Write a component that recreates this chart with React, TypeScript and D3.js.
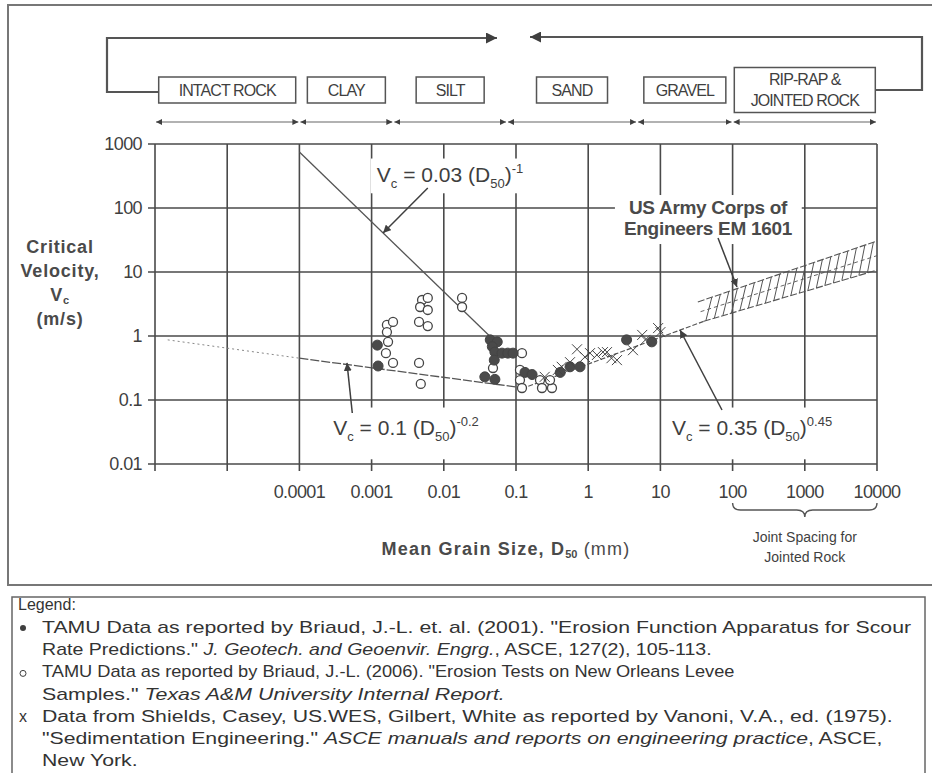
import { useEffect, useRef } from 'react';
import * as d3 from 'd3';

const W = 932;
const H = 773;

// axis decades
const xDecades = [1e-6, 1e-5, 1e-4, 1e-3, 1e-2, 1e-1, 1, 10, 100, 1000, 10000];
const xTickValues = [1e-4, 1e-3, 1e-2, 1e-1, 1, 10, 100, 1000, 10000];
const xTickLabels = ['0.0001', '0.001', '0.01', '0.1', '1', '10', '100', '1000', '10000'];
const yTickValues = [0.01, 0.1, 1, 10, 100, 1000];
const yTickLabels = ['0.01', '0.1', '1', '10', '100', '1000'];

// material classes along the grain size axis (mm)
const soilNames = [['INTACT ROCK'], ['CLAY'], ['SILT'], ['SAND'], ['GRAVEL'], ['RIP-RAP &', 'JOINTED ROCK']];
const soilBounds = [1e-6, 1e-4, 0.002, 0.075, 4.75, 100, 10000];

// [D50 mm, Vc m/s]
const tamu2001: [number, number][] = [
  [0.0012, 0.72], [0.00123, 0.34], [0.044, 0.87], [0.055, 0.81], [0.047, 0.68], [0.051, 0.56],
  [0.064, 0.54], [0.077, 0.54], [0.091, 0.54], [0.05, 0.42], [0.037, 0.23], [0.051, 0.21],
  [0.133, 0.27], [0.167, 0.25], [0.41, 0.27], [0.56, 0.33], [0.77, 0.33], [3.4, 0.87], [7.6, 0.81],
];
const tamu2006: [number, number][] = [
  [0.00163, 1.49], [0.00198, 1.66], [0.00163, 1.15], [0.00169, 0.81], [0.00158, 0.54], [0.00198, 0.38],
  [0.005, 3.65], [0.006, 3.93], [0.0047, 2.84], [0.006, 2.55], [0.00454, 1.66], [0.006, 1.43],
  [0.00454, 0.38], [0.0048, 0.178], [0.0179, 3.93], [0.0179, 2.84], [0.121, 0.54], [0.048, 0.316],
  [0.1135, 0.295], [0.1135, 0.205], [0.121, 0.154], [0.215, 0.205], [0.229, 0.154], [0.315, 0.154], [0.296, 0.205],
];
const shields: [number, number][] = [
  [0.25, 0.23], [0.38, 0.295], [0.43, 0.33], [0.56, 0.39], [0.7, 0.62], [0.9, 0.47], [1.06, 0.54],
  [1.32, 0.505], [1.6, 0.56], [1.82, 0.56], [2.1, 0.45], [2.5, 0.42], [4.17, 0.6], [5.6, 1.04],
  [6.2, 0.87], [9.3, 1.33], [10, 1.15],
];

// trend lines as drawn
const steepLine: [number, number][] = [[1e-4, 750], [0.05, 0.85]];
const flatLineDotted: [number, number][] = [[1.5e-6, 0.87], [1e-4, 0.45]];
const flatLine: [number, number][] = [[1e-4, 0.45], [0.1, 0.16]];
const risingLine: [number, number][] = [[0.12, 0.15], [40, 1.7]];
const bandUpper: [number, number][] = [[33, 3.4], [10000, 30.5]];
const bandMiddle: [number, number][] = [[36, 2.4], [10000, 18]];
const bandLower: [number, number][] = [[40, 1.7], [10000, 10.7]];

type Seg = { t: string; sub?: boolean; sup?: boolean; it?: boolean };

const eqSteep: Seg[] = [{ t: 'V' }, { t: 'c', sub: true }, { t: ' = 0.03 (D' }, { t: '50', sub: true }, { t: ')' }, { t: '-1', sup: true }];
const eqFlat: Seg[] = [{ t: 'V' }, { t: 'c', sub: true }, { t: ' = 0.1 (D' }, { t: '50', sub: true }, { t: ')' }, { t: '-0.2', sup: true }];
const eqRising: Seg[] = [{ t: 'V' }, { t: 'c', sub: true }, { t: ' = 0.35 (D' }, { t: '50', sub: true }, { t: ')' }, { t: '0.45', sup: true }];

const legendRows: { mark: string; segs: Seg[] }[] = [
  { mark: 'filled', segs: [{ t: 'TAMU Data as reported by Briaud, J.-L. et. al. (2001). "Erosion Function Apparatus for Scour' }] },
  { mark: '', segs: [{ t: 'Rate Predictions." ' }, { t: 'J. Geotech. and Geoenvir. Engrg.', it: true }, { t: ', ASCE, 127(2), 105-113.' }] },
  { mark: 'open', segs: [{ t: 'TAMU Data as reported by Briaud, J.-L. (2006). "Erosion Tests on New Orleans Levee' }] },
  { mark: '', segs: [{ t: 'Samples." ' }, { t: 'Texas A&M University Internal Report.', it: true }] },
  { mark: 'x', segs: [{ t: 'Data from Shields, Casey, US.WES, Gilbert,  White as reported by Vanoni, V.A., ed. (1975).' }] },
  { mark: '', segs: [{ t: '"Sedimentation Engineering." ' }, { t: 'ASCE manuals and reports on engineering practice', it: true }, { t: ', ASCE,' }] },
  { mark: '', segs: [{ t: 'New York.' }] },
];

const FONT = '"Liberation Sans", Arial, Helvetica, sans-serif';
const INK = '#3f3f3f';

export default function App() {
  const ref = useRef<SVGSVGElement>(null);

  useEffect(() => {
    if (!ref.current) return;
    const svg = d3.select(ref.current);
    svg.selectAll('*').remove();

    const x = d3.scaleLog().domain([1e-6, 1e4]).range([155, 877]);
    const y = d3.scaleLog().domain([0.01, 1000]).range([464, 144]);
    const line = d3.line<[number, number]>().x(d => x(d[0])).y(d => y(d[1]));

    const defs = svg.append('defs');
    const marker = (id: string, size: number) => {
      defs.append('marker')
        .attr('id', id)
        .attr('viewBox', '0 0 10 10')
        .attr('refX', 10).attr('refY', 5)
        .attr('markerUnits', 'userSpaceOnUse')
        .attr('markerWidth', size).attr('markerHeight', size)
        .attr('orient', 'auto-start-reverse')
        .append('path').attr('d', 'M0,0L10,5L0,10z').attr('fill', INK);
    };
    marker('bigArrow', 11);
    marker('smallArrow', 6);
    marker('noteArrow', 8);

    const rich = (parent: d3.Selection<SVGGElement, unknown, null, undefined>, segs: Seg[], size: number) => {
      const txt = parent.append('text').attr('font-size', size).attr('font-family', FONT).attr('fill', INK);
      let shift = 0;
      segs.forEach(s => {
        const target = s.sub ? size * 0.3 : s.sup ? -size * 0.45 : 0;
        const ts = txt.append('tspan').attr('dy', target - shift).text(s.t);
        if (s.sub || s.sup) ts.attr('font-size', size * 0.62);
        if (s.it) ts.attr('font-style', 'italic');
        shift = target;
      });
      return txt;
    };
    const squeeze = (t: d3.Selection<SVGTextElement, unknown, null, undefined>, cx: number, maxW: number) => {
      const w = (t.node() as SVGTextElement).getComputedTextLength();
      if (w > maxW) t.attr('transform', `translate(${cx},0) scale(${maxW / w},1) translate(${-cx},0)`);
    };

    // outer frames
    svg.append('rect').attr('x', 8).attr('y', 5).attr('width', 940).attr('height', 580)
      .attr('fill', 'none').attr('stroke', '#777').attr('stroke-width', 2);
    svg.append('rect').attr('x', 12).attr('y', 597).attr('width', 913).attr('height', 200)
      .attr('fill', 'none').attr('stroke', '#666').attr('stroke-width', 1.5);

    // material class boxes
    const boxW = [137, 78, 68, 71, 82, 141];
    const top = svg.append('g');
    const boxes = soilNames.map((names, i) => {
      const cx = (x(soilBounds[i]) + x(soilBounds[i + 1])) / 2;
      const h = names.length > 1 ? 45 : 26;
      const bx = cx - boxW[i] / 2;
      top.append('rect').attr('x', bx).attr('y', 90 - h / 2).attr('width', boxW[i]).attr('height', h)
        .attr('fill', '#fff').attr('stroke', '#555').attr('stroke-width', 1.5);
      names.forEach((n, k) => {
        const ty = names.length > 1 ? 85 + k * 21 : 96;
        const t = top.append('text').attr('x', cx).attr('y', ty).attr('text-anchor', 'middle')
          .attr('font-family', FONT).attr('font-size', 16).attr('fill', INK).attr('letter-spacing', -0.9).text(n);
        squeeze(t, cx, boxW[i] - (i === 0 ? 18 : 6));
      });
      return { left: bx, right: bx + boxW[i] };
    });

    // brackets with arrows
    top.append('path')
      .attr('d', `M${boxes[0].left},92 H107 V38 H497`)
      .attr('fill', 'none').attr('stroke', '#555').attr('stroke-width', 2.2).attr('marker-end', 'url(#bigArrow)');
    top.append('path')
      .attr('d', `M${boxes[5].right},90 H922 V37 H530`)
      .attr('fill', 'none').attr('stroke', '#555').attr('stroke-width', 2.2).attr('marker-end', 'url(#bigArrow)');

    // range arrows
    for (let i = 0; i < soilBounds.length - 1; i++) {
      top.append('line')
        .attr('x1', x(soilBounds[i]) + 1).attr('x2', x(soilBounds[i + 1]) - 1)
        .attr('y1', 122).attr('y2', 122)
        .attr('stroke', '#666').attr('stroke-width', 1.1)
        .attr('marker-start', 'url(#smallArrow)').attr('marker-end', 'url(#smallArrow)');
    }

    // grid
    const grid = svg.append('g').attr('stroke', '#4a4a4a').attr('stroke-width', 1.6);
    xDecades.forEach(v => {
      grid.append('line').attr('x1', x(v)).attr('x2', x(v)).attr('y1', y(1000)).attr('y2', y(0.01) + 7);
    });
    yTickValues.forEach(v => {
      grid.append('line').attr('x1', x(1e-6) - 7).attr('x2', x(1e4)).attr('y1', y(v)).attr('y2', y(v));
    });

    // tick labels
    const ticks = svg.append('g').attr('font-family', FONT).attr('font-size', 18).attr('fill', INK);
    yTickValues.forEach((v, i) => {
      ticks.append('text').attr('x', x(1e-6) - 13).attr('y', y(v) + 6).attr('text-anchor', 'end')
        .attr('letter-spacing', -0.6).text(yTickLabels[i]);
    });
    xTickValues.forEach((v, i) => {
      ticks.append('text').attr('x', x(v)).attr('y', y(0.01) + 34).attr('text-anchor', 'middle')
        .attr('letter-spacing', -0.6).text(xTickLabels[i]);
    });

    // equation labels with white backgrounds
    const notes = svg.append('g');
    const placeLabel = (segs: Seg[], at: [number, number], pad: [number, number, number]) => {
      const t = rich(notes, segs, 21).attr('x', x(at[0])).attr('y', y(at[1])).attr('text-anchor', 'middle');
      const bb = (t.node() as SVGTextElement).getBBox();
      notes.insert('rect', () => t.node() as SVGTextElement)
        .attr('x', bb.x - pad[0]).attr('y', bb.y - pad[1])
        .attr('width', bb.width + 2 * pad[0]).attr('height', bb.height + pad[1] + pad[2])
        .attr('fill', '#fff');
    };
    placeLabel(eqSteep, [0.0122, 255], [6, 2, 2]);
    placeLabel(eqFlat, [0.003, 0.0284], [8, 6, 15]);
    placeLabel(eqRising, [186, 0.0284], [6, 6, 15]);

    const corps = notes.append('g').attr('font-family', FONT).attr('font-size', 19).attr('font-weight', 'bold')
      .attr('fill', '#4a4a4a').attr('text-anchor', 'middle');
    const c1 = corps.append('text').attr('x', x(45.6)).attr('y', y(80.5)).attr('letter-spacing', -0.3).text('US Army Corps of');
    corps.append('text').attr('x', x(45.6)).attr('y', y(37.8)).attr('letter-spacing', -0.3).text('Engineers EM 1601');
    const cb = (corps.node() as SVGGElement).getBBox();
    corps.insert('rect', () => c1.node() as SVGTextElement)
      .attr('x', cb.x - 9).attr('y', cb.y - 2).attr('width', cb.width + 18).attr('height', cb.height + 7).attr('fill', '#fff');

    // trend lines
    const lines = svg.append('g').attr('fill', 'none').attr('stroke', '#555');
    lines.append('path').attr('d', line(steepLine)).attr('stroke-width', 1.3);
    lines.append('path').attr('d', line(flatLineDotted)).attr('stroke-width', 1).attr('stroke', '#888').attr('stroke-dasharray', '2,3');
    lines.append('path').attr('d', line(flatLine)).attr('stroke-width', 1.3).attr('stroke-dasharray', '9,2');
    lines.append('path').attr('d', line(risingLine)).attr('stroke-width', 1.2).attr('stroke-dasharray', '5,2');
    lines.append('path').attr('d', line(bandUpper)).attr('stroke-width', 1.1).attr('stroke-dasharray', '7,2');
    lines.append('path').attr('d', line(bandMiddle)).attr('stroke-width', 0.9).attr('stroke-dasharray', '4,3');
    lines.append('path').attr('d', line(bandLower)).attr('stroke-width', 1.1).attr('stroke-dasharray', '7,2');

    // hatching between band edges
    const lx0 = x(bandLower[0][0]);
    const lx1 = x(bandLower[1][0]);
    const ly = (px: number, edge: [number, number][]) => {
      const a = [x(edge[0][0]), y(edge[0][1])];
      const b = [x(edge[1][0]), y(edge[1][1])];
      return a[1] + ((px - a[0]) / (b[0] - a[0])) * (b[1] - a[1]);
    };
    for (let px = lx0 + 2; px < lx1 - 6; px += 8.5) {
      lines.append('line')
        .attr('x1', px).attr('y1', ly(px, bandLower))
        .attr('x2', px + 6).attr('y2', ly(px + 6, bandUpper))
        .attr('stroke-width', 1);
    }

    // data points
    const pts = svg.append('g').attr('stroke', '#444');
    tamu2006.forEach(d => {
      pts.append('circle').attr('cx', x(d[0])).attr('cy', y(d[1])).attr('r', 4.5)
        .attr('fill', '#fff').attr('stroke-width', 1.3);
    });
    tamu2001.forEach(d => {
      pts.append('circle').attr('cx', x(d[0])).attr('cy', y(d[1])).attr('r', 5)
        .attr('fill', '#4a4a4a').attr('stroke-width', 1);
    });
    shields.forEach(d => {
      const cx = x(d[0]);
      const cy = y(d[1]);
      const s = 5;
      pts.append('path').attr('d', `M${cx - s},${cy - s}L${cx + s},${cy + s}M${cx - s},${cy + s}L${cx + s},${cy - s}`)
        .attr('fill', 'none').attr('stroke-width', 1);
    });

    // annotation arrows
    const arrows: [number, number][][] = [
      [[0.006, 205], [0.00144, 40.6]],
      [[0.00054, 0.0626], [0.000456, 0.38]],
      [[62.8, 34], [115, 5.83]],
      [[71.3, 0.0698], [18.7, 1.24]],
    ];
    arrows.forEach(a => {
      svg.append('path').attr('d', line(a)).attr('fill', 'none').attr('stroke', INK)
        .attr('stroke-width', 1.5).attr('marker-end', 'url(#noteArrow)');
    });

    // axis titles
    const ytitle = svg.append('g').attr('font-family', FONT).attr('font-size', 18).attr('font-weight', 'bold')
      .attr('fill', '#4a4a4a').attr('text-anchor', 'middle').attr('letter-spacing', 0.8);
    ['Critical', 'Velocity,'].forEach((t, i) => ytitle.append('text').attr('x', 60).attr('y', 253 + i * 24).text(t));
    const vc = ytitle.append('text').attr('x', 60).attr('y', 301);
    vc.append('tspan').text('V');
    vc.append('tspan').attr('font-size', 11).attr('dy', 3).text('c');
    ytitle.append('text').attr('x', 60).attr('y', 325).text('(m/s)');

    const xt = svg.append('text').attr('x', 506).attr('y', 555).attr('text-anchor', 'middle')
      .attr('font-family', FONT).attr('font-size', 18).attr('font-weight', 'bold').attr('fill', '#4a4a4a')
      .attr('letter-spacing', 1.2);
    xt.append('tspan').text('Mean Grain Size, D');
    xt.append('tspan').attr('font-size', 11).attr('dy', 3).attr('letter-spacing', 0).text('50');
    xt.append('tspan').attr('dy', -3).attr('font-weight', 'normal').text(' (mm)');

    // joint spacing brace
    const b0 = x(100);
    const b1 = x(10000);
    const bm = (b0 + b1) / 2;
    svg.append('path')
      .attr('d', `M${b0},503 Q${b0},510 ${b0 + 8},510 H${bm - 8} Q${bm},510 ${bm},517 Q${bm},510 ${bm + 8},510 H${b1 - 8} Q${b1},510 ${b1},503`)
      .attr('fill', 'none').attr('stroke', '#555').attr('stroke-width', 1.4);
    const js = svg.append('g').attr('font-family', FONT).attr('font-size', 14).attr('fill', INK).attr('text-anchor', 'middle');
    js.append('text').attr('x', bm).attr('y', 542).text('Joint Spacing for');
    js.append('text').attr('x', bm).attr('y', 562).text('Jointed Rock');

    // legend
    const legendEnds = [912, 712, 735, 505, 893, 883];
    const leg = svg.append('g').attr('font-family', FONT).attr('font-size', 16).attr('fill', '#333');
    leg.append('text').attr('x', 18).attr('y', 610).text('Legend:');
    const rowsG = leg.append('g');
    let lastK = 1;
    legendRows.forEach((r, i) => {
      const yy = 633 + i * 22.2;
      const t = rich(rowsG, r.segs, 16).attr('x', 42).attr('y', yy).attr('fill', '#333');
      const w = (t.node() as SVGTextElement).getComputedTextLength();
      const k = i < legendEnds.length ? (legendEnds[i] - 42) / w : lastK;
      lastK = k;
      t.attr('transform', `translate(42,0) scale(${k},1) translate(-42,0)`);
      if (r.mark === 'filled') rowsG.append('circle').attr('cx', 23).attr('cy', yy - 5).attr('r', 3).attr('fill', INK);
      if (r.mark === 'open') rowsG.append('circle').attr('cx', 23).attr('cy', yy - 4).attr('r', 3).attr('fill', 'none').attr('stroke', INK);
      if (r.mark === 'x') rowsG.append('text').attr('x', 19).attr('y', yy).text('x');
    });
  }, []);

  return (
    <svg
      ref={ref}
      width={W}
      height={H}
      style={{ position: 'absolute', left: 0, top: 0, display: 'block', background: '#fff' }}
    />
  );
}
